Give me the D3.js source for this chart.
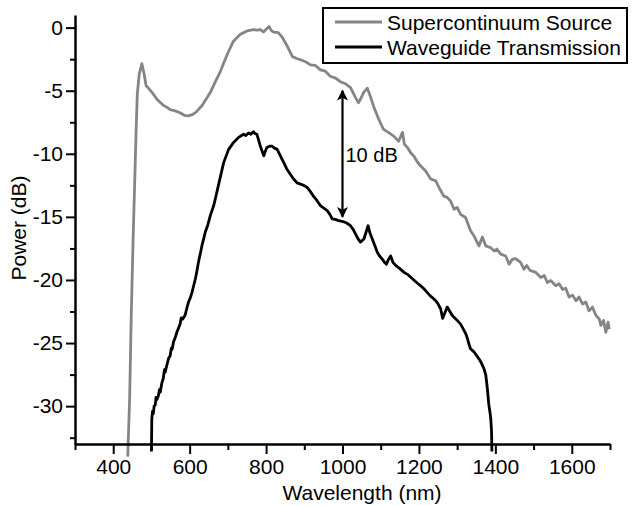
<!DOCTYPE html>
<html>
<head>
<meta charset="utf-8">
<script src="https://cdn.jsdelivr.net/npm/d3@7"></script>
<style>
  html, body { margin: 0; padding: 0; background: #fff; }
  svg { display: block; font-family: "Liberation Sans", Arial, sans-serif; }
</style>
</head>
<body>
<svg id="chart" width="632" height="506"></svg>
<script>
// ---------------- data ----------------
const xTicksMajor = [400, 600, 800, 1000, 1200, 1400, 1600];
const xTicksMinor = [300, 500, 700, 900, 1100, 1300, 1500, 1700];
const yTicksMajor = [0, -5, -10, -15, -20, -25, -30];
const yTicksMinor = [-2.5, -7.5, -12.5, -17.5, -22.5, -27.5, -32.5];
const seriesNames = ["Supercontinuum Source", "Waveguide Transmission"];
const xTitle = "Wavelength (nm)";
const yTitle = "Power (dB)";

// Supercontinuum Source: [wavelength nm, power dB]
const sourceData = [[438,-34],[443,-29.4],[447,-23.1],[452,-16.8],[455,-13.6],[460,-8.1],[463,-5.3],[468,-3.7],[475,-2.85],[481,-3.7],[486,-4.6],[491,-4.75],[502,-5.15],[515,-5.7],[531,-6.15],[540,-6.3],[549,-6.5],[562,-6.6],[575,-6.75],[586,-6.95],[596,-7.0],[607,-6.9],[617,-6.7],[633,-6.15],[654,-5.15],[667,-4.3],[680,-3.5],[698,-2.15],[714,-1.1],[732,-0.55],[751,-0.25],[767,-0.15],[776,-0.2],[785,-0.15],[793,-0.35],[803,-0.05],[808,0.08],[813,-0.2],[819,-0.35],[832,-0.4],[843,-0.8],[856,-1.5],[869,-2.3],[880,-2.45],[890,-2.55],[903,-2.7],[916,-2.95],[929,-3.0],[942,-3.35],[955,-3.45],[968,-3.85],[982,-4.0],[995,-4.3],[1008,-4.45],[1021,-4.75],[1034,-5.55],[1042,-5.95],[1050,-5.5],[1055,-5.15],[1065,-4.8],[1073,-5.45],[1082,-6.3],[1092,-7.05],[1100,-7.6],[1107,-8.05],[1120,-8.3],[1134,-8.6],[1147,-9.0],[1157,-8.3],[1162,-9.25],[1170,-9.5],[1178,-9.9],[1187,-10.2],[1196,-10.65],[1204,-10.95],[1217,-11.35],[1231,-12.0],[1244,-12.15],[1252,-12.65],[1265,-13.35],[1274,-13.45],[1283,-13.75],[1292,-14.4],[1300,-14.25],[1309,-14.8],[1322,-15.05],[1335,-16.1],[1344,-16.5],[1357,-17.3],[1366,-16.6],[1375,-17.3],[1388,-17.45],[1397,-17.7],[1404,-17.55],[1414,-17.95],[1427,-18.1],[1436,-18.75],[1445,-18.35],[1453,-18.3],[1466,-18.6],[1475,-19.15],[1482,-18.85],[1491,-19.25],[1506,-19.4],[1519,-19.8],[1528,-19.65],[1536,-20.2],[1545,-20.05],[1558,-20.45],[1567,-20.3],[1576,-20.75],[1584,-20.65],[1593,-21.35],[1602,-21.2],[1611,-21.65],[1619,-21.35],[1628,-21.9],[1637,-21.75],[1645,-22.45],[1654,-22.15],[1663,-22.8],[1672,-23.1],[1676,-23.6],[1683,-23.2],[1689,-24.15],[1695,-23.35],[1698,-23.9]];

// Waveguide Transmission: [wavelength nm, power dB]
const waveguideData = [[500,-33.6],[501,-31.0],[503,-30.4],[505,-30.6],[507,-30.0],[510,-29.9],[512,-29.3],[514,-29.5],[518,-29.2],[521,-28.7],[523,-28.9],[527,-28.2],[531,-27.8],[534,-27.1],[536,-27.3],[540,-26.8],[545,-26.2],[549,-26.0],[552,-25.4],[554,-25.5],[558,-24.9],[563,-24.5],[567,-24.1],[571,-23.8],[575,-23.5],[578,-23.0],[582,-23.1],[588,-22.8],[593,-22.2],[597,-21.75],[602,-21.4],[606,-21.0],[611,-20.4],[615,-19.9],[619,-19.3],[623,-18.6],[628,-17.9],[632,-17.3],[637,-16.7],[641,-16.2],[648,-15.6],[654,-14.9],[663,-14.1],[667,-13.6],[676,-12.4],[689,-10.7],[702,-9.65],[715,-9.1],[728,-8.7],[741,-8.45],[747,-8.55],[754,-8.35],[760,-8.45],[767,-8.25],[771,-8.4],[776,-8.45],[785,-9.4],[794,-10.15],[798,-9.8],[802,-9.5],[809,-9.4],[816,-9.4],[822,-9.55],[829,-9.65],[835,-10.0],[842,-10.45],[848,-10.8],[855,-11.25],[863,-11.6],[872,-12.0],[881,-12.3],[890,-12.4],[898,-12.5],[907,-12.65],[916,-13.0],[925,-13.4],[933,-13.7],[942,-14.1],[951,-14.3],[960,-14.5],[967,-14.8],[973,-15.15],[981,-15.2],[990,-15.3],[999,-15.35],[1008,-15.45],[1014,-15.55],[1021,-15.7],[1028,-16.0],[1034,-16.35],[1040,-16.7],[1047,-17.0],[1056,-16.75],[1067,-15.7],[1072,-16.3],[1078,-16.75],[1085,-17.3],[1091,-17.8],[1097,-18.1],[1104,-18.35],[1110,-18.6],[1115,-18.75],[1120,-18.4],[1126,-18.1],[1132,-18.6],[1139,-18.85],[1150,-19.1],[1161,-19.4],[1172,-19.6],[1183,-19.9],[1194,-20.2],[1204,-20.45],[1213,-20.7],[1222,-21.0],[1231,-21.3],[1239,-21.5],[1244,-21.65],[1250,-21.9],[1257,-22.3],[1262,-23.05],[1268,-22.6],[1274,-22.15],[1281,-22.5],[1287,-22.8],[1293,-23.0],[1300,-23.2],[1309,-23.5],[1318,-24.0],[1323,-24.3],[1327,-24.65],[1331,-25.1],[1335,-25.45],[1344,-25.7],[1350,-25.95],[1357,-26.25],[1362,-26.5],[1366,-26.75],[1371,-27.1],[1375,-27.55],[1379,-28.6],[1383,-29.9],[1386,-30.5],[1388,-31.0],[1390,-32.0],[1391,-33.6]];

// annotation: arrow at 1000 nm between -5 dB and -15 dB
const arrowX = 1000;
const arrowFrom = -5;
const arrowTo = -15;
const arrowLabel = "10 dB";

// ---------------- layout ----------------
(function () {
const svg = d3.select("#chart");
const mLeft = 75, mRight = 610, mTop = 15, mBottom = 444;
const x = d3.scaleLinear().domain([300, 1700]).range([mLeft, mRight]);
const y = d3.scaleLinear().domain([-33, 1]).range([mBottom, mTop]);
const colors = ["#858585", "#000000"];
const fmt = d => String(d);

const line = d3.line().x(d => x(d[0])).y(d => y(d[1]));

// series
svg.append("path").datum(sourceData)
  .attr("d", line).attr("fill", "none")
  .attr("stroke", colors[0]).attr("stroke-width", 2.8).attr("stroke-linejoin", "round");
svg.append("path").datum(waveguideData)
  .attr("d", line).attr("fill", "none")
  .attr("stroke", colors[1]).attr("stroke-width", 2.8).attr("stroke-linejoin", "round");

// axes
const fs = 21;
const xAxis = svg.append("g").attr("transform", `translate(0,${mBottom})`)
  .call(d3.axisBottom(x).tickValues(xTicksMajor).tickFormat(fmt).tickSize(10).tickPadding(5).tickSizeOuter(0));
const xMinor = svg.append("g").attr("transform", `translate(0,${mBottom})`)
  .call(d3.axisBottom(x).tickValues(xTicksMinor).tickSize(6).tickFormat("").tickSizeOuter(0));
const yAxis = svg.append("g").attr("transform", `translate(${mLeft},0)`)
  .call(d3.axisLeft(y).tickValues(yTicksMajor).tickFormat(fmt).tickSize(9).tickPadding(3).tickSizeOuter(0));
const yMinor = svg.append("g").attr("transform", `translate(${mLeft},0)`)
  .call(d3.axisLeft(y).tickValues(yTicksMinor).tickSize(5).tickFormat("").tickSizeOuter(0));

[xAxis, xMinor, yAxis, yMinor].forEach(g => {
  g.selectAll(".domain").attr("stroke", "#000").attr("stroke-width", 2.5);
  g.selectAll(".tick line").attr("stroke", "#000").attr("stroke-width", 2);
  g.selectAll(".tick text").attr("fill", "#000").attr("font-size", fs)
    .attr("font-family", "Liberation Sans, Arial, sans-serif");
});
xMinor.select(".domain").remove();
yMinor.select(".domain").remove();

// axis titles
svg.append("text").attr("x", 362).attr("y", 500).attr("text-anchor", "middle")
  .attr("font-size", 21).attr("fill", "#000").text(xTitle);
svg.append("text").attr("transform", "translate(26,228) rotate(-90)")
  .attr("text-anchor", "middle").attr("font-size", 21).attr("fill", "#000").text(yTitle);

// arrow annotation
const defs = svg.append("defs");
defs.append("marker").attr("id", "ah").attr("viewBox", "0 0 10 10")
  .attr("refX", 9).attr("refY", 5).attr("markerWidth", 11).attr("markerHeight", 11)
  .attr("markerUnits", "userSpaceOnUse").attr("orient", "auto-start-reverse")
  .append("path").attr("d", "M0,0 L10,5 L0,10 L2.5,5 z").attr("fill", "#000");
svg.append("line")
  .attr("x1", x(arrowX)).attr("x2", x(arrowX))
  .attr("y1", y(arrowFrom)).attr("y2", y(arrowTo))
  .attr("stroke", "#000").attr("stroke-width", 2.2)
  .attr("marker-start", "url(#ah)").attr("marker-end", "url(#ah)");
svg.append("text").attr("x", x(arrowX) + 3).attr("y", y((arrowFrom + arrowTo) / 2) + 8)
  .attr("font-size", 20).attr("fill", "#000").text(arrowLabel);

// legend
const lg = svg.append("g");
lg.append("rect").attr("x", 323).attr("y", 8).attr("width", 304).attr("height", 55)
  .attr("fill", "#fff").attr("stroke", "#000").attr("stroke-width", 2);
seriesNames.forEach((name, i) => {
  const yy = 22 + i * 25;
  lg.append("line").attr("x1", 335).attr("x2", 382).attr("y1", yy).attr("y2", yy)
    .attr("stroke", colors[i]).attr("stroke-width", 2.8);
  lg.append("text").attr("x", 387).attr("y", yy + 7.5).attr("font-size", 21)
    .attr("fill", "#000").text(name);
});
})();
</script>
</body>
</html>
